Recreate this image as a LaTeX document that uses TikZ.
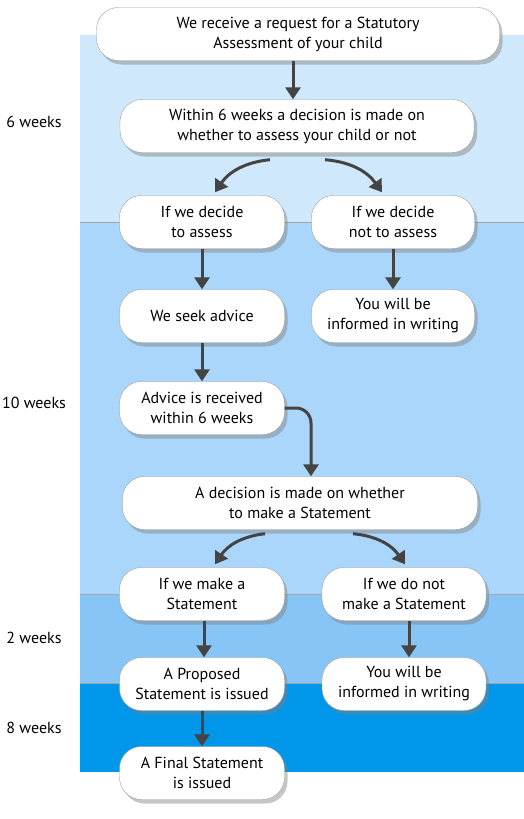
\documentclass[tikz,border=0pt]{standalone}
\usepackage{fontspec}
\setmainfont{PT Sans}
\usetikzlibrary{arrows.meta}
\usetikzlibrary{shadows}
\usetikzlibrary{positioning}

\definecolor{bandA}{HTML}{D0E8FB}
\definecolor{bandB}{HTML}{A9D6FA}
\definecolor{bandC}{HTML}{86C5F6}
\definecolor{bandD}{HTML}{0096EA}
\definecolor{arrowgrey}{HTML}{444444}

\begin{document}
\begin{tikzpicture}[
          x=1pt, y=-1pt,
          step box/.style={
            draw=gray!75,
            fill=white,
            rounded corners=22pt,
            minimum height=53pt,
            align=center,
            font=\fontsize{16}{20}\selectfont,
            drop shadow={opacity=0.45, shadow xshift=3pt, shadow yshift=-4pt}},
          week/.style={
            font=\fontsize{16}{19}\selectfont},
          flow/.style={
            draw=arrowgrey,
            line width=3pt,
            -{Triangle[length=12pt,width=15pt]}},
        ]
          \useasboundingbox (0,0) rectangle (524,819);
          % time bands
          \fill[bandA] (80,35) rectangle (524,222);
          \fill[bandB] (80,222) rectangle (524,594);
          \fill[bandC] (80,594) rectangle (524,683);
          \fill[bandD] (80,683) rectangle (524,772);
          \draw[gray!70, line width=0.8pt] (80,222) -- (524,222);
          \draw[gray!70, line width=0.8pt] (80,594) -- (524,594);
          \draw[gray!70, line width=0.8pt] (80,683) -- (524,683);

          \node[week] (w1) at (34,122) {6 weeks};
          \node[week] (w2) at (34,403) {10 weeks};
          \node[week] (w3) at (34,638) {2 weeks};
          \node[week] (w4) at (34,728) {8 weeks};

          \node[step box, minimum width=403pt] (1) at (298,34)
            {We receive a request for a Statutory\\Assessment of your child};
          \node[step box, minimum width=354pt] (2) at (297,126)
            {Within 6 weeks a decision is made on\\whether to assess your child or not};
          \node[step box, minimum width=165pt] (3) at (202,222) {If we decide\\to assess};
          \node[step box, minimum width=163pt] (4) at (393,222) {If we decide\\not to assess};
          \node[step box, minimum width=165pt] (5) at (202,316) {We seek advice};
          \node[step box, minimum width=163pt] (6) at (393,316) {You will be\\informed in writing};
          \node[step box, minimum width=165pt] (7) at (202,408) {Advice is received\\within 6 weeks};
          \node[step box, minimum width=355pt] (8) at (300,503)
            {A decision is made on whether\\to make a Statement};
          \node[step box, minimum width=165pt] (9) at (202,594) {If we make a\\Statement};
          \node[step box, minimum width=164pt] (10) at (404,594) {If we do not\\make a Statement};
          \node[step box, minimum width=165pt] (11) at (202,684) {A Proposed\\Statement is issued};
          \node[step box, minimum width=164pt] (12) at (404,684) {You will be\\informed in writing};
          \node[step box, minimum width=165pt] (13) at (202,773) {A Final Statement\\is issued};

          \draw[flow] ([xshift=-5pt]1.south) -- ([xshift=-4pt]2.north);
          \draw[flow] ([xshift=-27pt,yshift=-7pt]2.south) to[bend right=25] ([xshift=13pt,yshift=3pt]3.north);
          \draw[flow] ([xshift=28pt,yshift=-7pt]2.south) to[bend left=25] ([xshift=-11pt,yshift=3pt]4.north);
          \draw[flow] (3) -- (5);
          \draw[flow] (4) -- (6);
          \draw[flow] (5) -- (7);
          \draw[flow, rounded corners=15pt] (7.east) -| ([xshift=11pt]8.north);
          \draw[flow] ([xshift=-35pt,yshift=-4pt]8.south) to[bend right=25] ([xshift=13pt,yshift=3pt]9.north);
          \draw[flow] ([xshift=53pt,yshift=-4pt]8.south) to[bend left=25] ([xshift=1pt,yshift=3pt]10.north);
          \draw[flow] ([xshift=2pt]9.south) -- ([xshift=2pt]11.north);
          \draw[flow] ([xshift=5pt]10.south) -- ([xshift=5pt]12.north);
          \draw[flow] (11) -- (13);
        \end{tikzpicture}
\end{document}
